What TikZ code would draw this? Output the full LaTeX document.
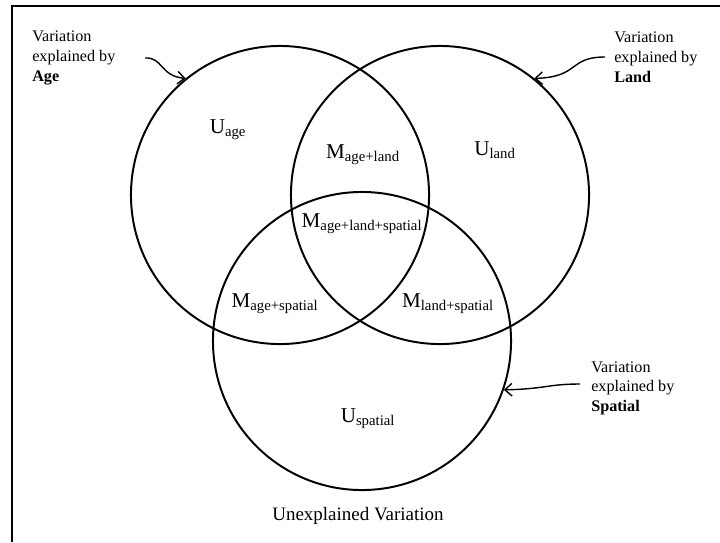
\documentclass[tikz,border=0pt]{standalone}
\usepackage{fontspec}
\setmainfont{Liberation Serif}
\usetikzlibrary{arrows.meta}
\begin{document}
\begin{tikzpicture}[x=0.025cm, y=-0.025cm,
	set/.style={circle, draw, line width=1.4pt, minimum size=7.45cm, inner sep=0pt},
	part/.style={font=\fontsize{15}{18}\selectfont, inner sep=1pt},
	note/.style={font=\fontsize{11.5}{14}\selectfont, align=left, anchor=north west, inner sep=0pt},
	pointer/.style={line width=1pt, -{Straight Barb[length=5pt, width=9pt]}}]
	\useasboundingbox (0,0) rectangle (720,542);
	\draw[line width=1.8pt] (12,542) -- (12,6) -- (720,6);
	
	\node[set](age) at (280,195) {};
	\node[set](land) at (440,195) {};
	\node[set](spatial) at (362,341) {};
	
	\node[part](uage) at (228,130) {U\textsubscript{age}};
	\node[part](uland) at (495,150) {U\textsubscript{land}};
	\node[part](mageland) at (363,155) {M\textsubscript{age+land}};
	\node[part](mall) at (362,224) {M\textsubscript{age+land+spatial}};
	\node[part](magespatial) at (275,304) {M\textsubscript{age+spatial}};
	\node[part](mlandspatial) at (448,304) {M\textsubscript{land+spatial}};
	\node[part](uspatial) at (368,419) {U\textsubscript{spatial}};
	\node[font=\fontsize{13.5}{16}\selectfont](unexplained) at (358,516) {Unexplained Variation};
	
	\node[note](agetxt) at (32,31) {Variation\\explained by\\\textbf{Age}};
	\node[note](landtxt) at (614,32) {Variation\\explained by\\\textbf{Land}};
	\node[note](spatialtxt) at (591,361) {Variation\\explained by\\\textbf{Spatial}};
	
	\coordinate (agefrom) at (145,58);
	\coordinate (landfrom) at (605,57);
	\coordinate (spatialfrom) at (580,384);
	\draw[pointer] (agefrom) .. controls (163,57) and (160,76) .. (age.129);
	\draw[pointer] (landfrom) .. controls (568,57) and (580,77) .. (land.51);
	\draw[pointer] (spatialfrom) .. controls (548,384) and (545,389) .. (spatial.-19);
\end{tikzpicture}
\end{document}
